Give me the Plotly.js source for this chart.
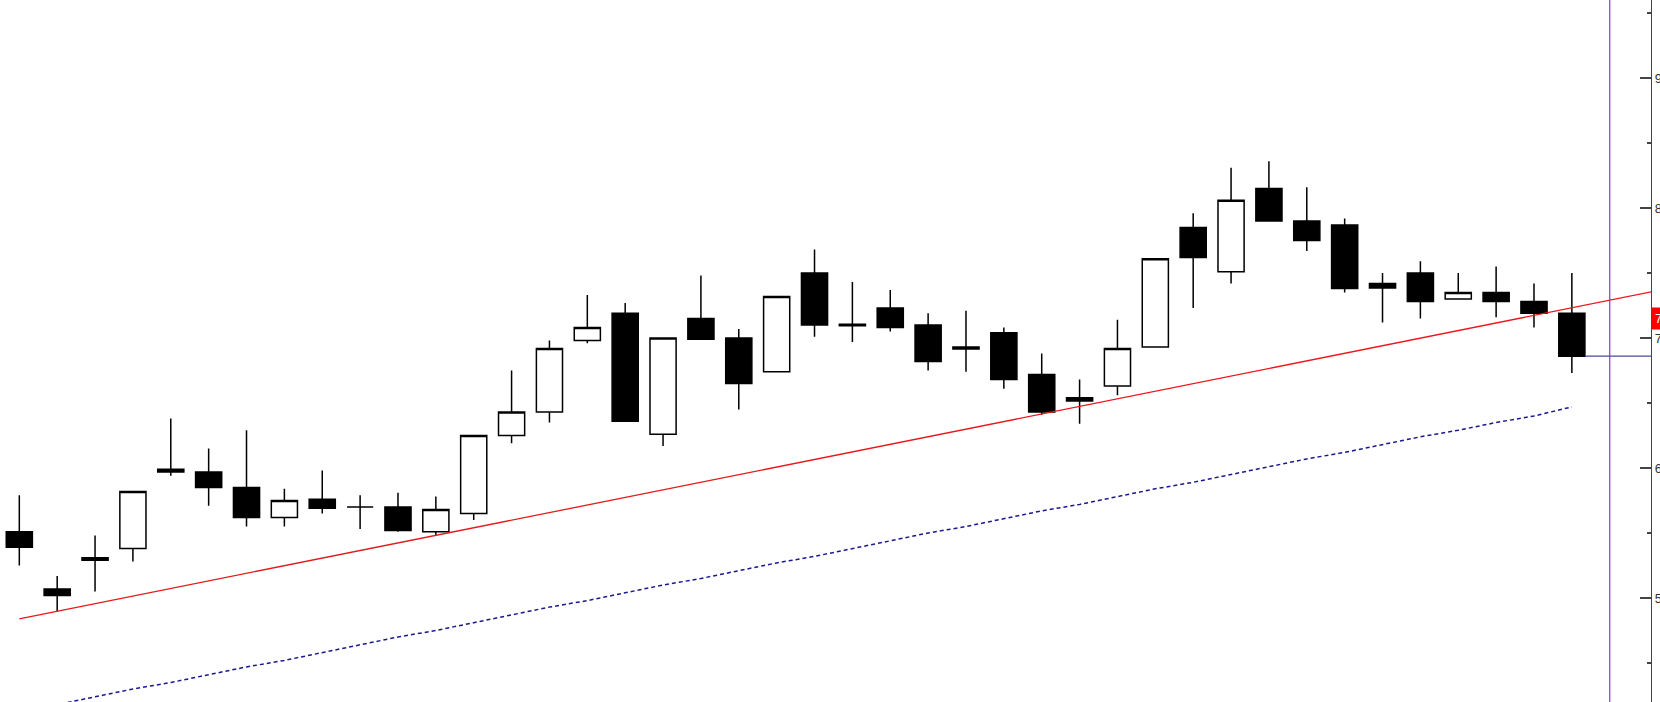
<!DOCTYPE html>
<html>
<head>
<meta charset="utf-8">
<script src="https://cdn.plot.ly/plotly-3.0.1.min.js"></script>
<style>
html,body{margin:0;padding:0;background:#fff;overflow:hidden;}
#chart{width:1660px;height:702px;}
</style>
</head>
<body>
<div id="chart"></div>
<script>
// ---- data ----
var idx = [];
for (var k = 0; k < 42; k++) idx.push(k);

var openP  = [5.51,5.07,5.31,5.38,5.99,5.97,5.85,5.62,5.76,5.70,5.70,5.51,5.65,6.25,6.43,6.98,7.19,6.26,7.15,7.00,6.74,7.50,7.105,7.23,7.10,6.93,7.04,6.72,6.54,6.63,6.93,7.85,7.51,8.15,7.90,7.87,7.42,7.50,7.30,7.35,7.28,7.19];
var highP  = [5.79,5.17,5.48,5.82,6.38,6.15,6.29,5.84,5.98,5.79,5.81,5.78,6.25,6.75,6.98,7.33,7.27,7.00,7.48,7.07,7.32,7.68,7.43,7.37,7.19,7.21,7.08,6.88,6.68,7.14,7.61,7.96,8.31,8.36,8.16,7.92,7.50,7.59,7.50,7.55,7.42,7.50];
var lowP   = [5.25,4.90,5.05,5.28,5.94,5.71,5.55,5.55,5.65,5.53,5.51,5.48,5.60,6.19,6.35,6.96,6.36,6.17,6.99,6.45,6.74,7.01,6.97,7.05,6.75,6.74,6.61,6.41,6.34,6.56,6.93,7.23,7.42,7.90,7.67,7.35,7.12,7.15,7.30,7.16,7.08,6.73];
var closeP = [5.39,5.02,5.29,5.82,5.97,5.85,5.62,5.75,5.69,5.70,5.52,5.68,6.25,6.43,6.92,7.08,6.36,7.00,6.99,6.65,7.32,7.10,7.095,7.08,6.82,6.915,6.68,6.43,6.515,6.92,7.61,7.62,8.06,7.90,7.75,7.38,7.385,7.28,7.35,7.28,7.19,6.86];

var maP = [4.13,4.18,4.24,4.30,4.35,4.41,4.47,4.52,4.58,4.64,4.70,4.75,4.81,4.87,4.93,4.98,5.04,5.10,5.15,5.21,5.27,5.32,5.38,5.44,5.50,5.55,5.61,5.67,5.72,5.78,5.84,5.89,5.95,6.01,6.07,6.12,6.18,6.24,6.29,6.35,6.40,6.47];

var trendX = [0, 43.1];
var trendY = [4.84, 7.355];

var lastCloseX = [41.35, 43.1];
var lastCloseY = [6.86, 6.86];

var cursorX = 42;
var trendLabelValue = 7.15;
var trendLabelText = "7.15";

var tickVals = [5, 6, 7, 8, 9];
var tickLabels = ["5.00", "6.00", "7.00", "8.00", "9.00"];

// ---- traces ----
var traces = [
  {
    type: 'scatter', mode: 'lines', x: idx, y: maP,
    line: {color: '#1a1a8c', width: 1.5, dash: '4px,3px'},
    hoverinfo: 'skip', showlegend: false
  },
  {
    type: 'scatter', mode: 'lines', x: trendX, y: trendY,
    line: {color: '#e8181c', width: 1.3},
    hoverinfo: 'skip', showlegend: false, cliponaxis: false
  },
  {
    type: 'candlestick', x: idx,
    open: openP, high: highP, low: lowP, close: closeP,
    increasing: {line: {color: '#000', width: 1.5}, fillcolor: '#fff'},
    decreasing: {line: {color: '#000', width: 1.5}, fillcolor: '#000'},
    hoverinfo: 'skip', showlegend: false
  },
  {
    type: 'scatter', mode: 'lines', x: lastCloseX, y: lastCloseY,
    line: {color: '#4a4aa8', width: 1.3},
    hoverinfo: 'skip', showlegend: false
  }
];

var layout = {
  width: 1660, height: 702,
  margin: {l: 0, r: 9, t: 0, b: 0, autoexpand: false},
  paper_bgcolor: '#fff', plot_bgcolor: '#fff',
  showlegend: false,
  boxgap: 0.31, boxgroupgap: 0,
  xaxis: {
    range: [-0.51, 43.09], showgrid: false, zeroline: false,
    showticklabels: false, ticks: '', showline: false,
    rangeslider: {visible: false}, fixedrange: true
  },
  yaxis: {
    range: [4.2, 9.6], side: 'right', showgrid: false, zeroline: false,
    showline: true, linecolor: '#444', linewidth: 1.2,
    ticks: 'inside', ticklen: 11, tickwidth: 1.2, tickcolor: '#444',
    tickvals: tickVals, ticktext: tickLabels,
    tickfont: {family: 'Liberation Sans, Arial, sans-serif', size: 13, color: '#333'},
    minor: {dtick: 0.5, ticks: 'inside', ticklen: 4, tickwidth: 1.2, tickcolor: '#444', showgrid: false},
    automargin: false, fixedrange: true
  },
  shapes: [
    {type: 'line', xref: 'x', yref: 'paper', x0: cursorX, x1: cursorX, y0: 0, y1: 1,
     line: {color: '#7f3fbf', width: 1.2}}
  ],
  annotations: [
    {xref: 'paper', yref: 'y', x: 1, y: trendLabelValue, xanchor: 'left', yanchor: 'middle',
     text: trendLabelText, showarrow: false, bgcolor: '#ff0000', borderpad: 3,
     font: {family: 'Liberation Sans, Arial, sans-serif', size: 13, color: '#fff'}}
  ]
};

Plotly.newPlot('chart', traces, layout, {staticPlot: true, displayModeBar: false});
</script>
</body>
</html>
